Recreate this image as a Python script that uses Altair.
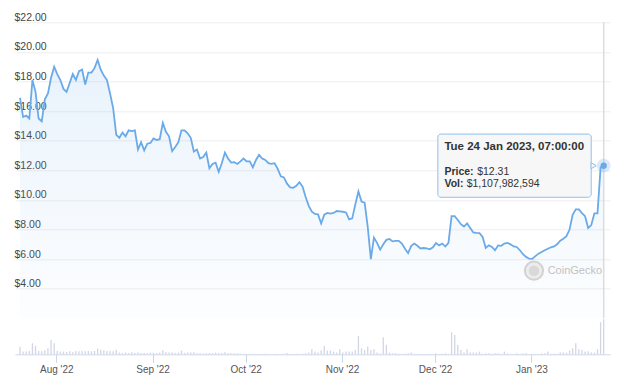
import altair as alt
import pandas as pd

# ---- data ----
dates = pd.date_range("2022-07-20 07:00", periods=189, freq="D")

price_usd = [
    16.9, 15.6, 15.7, 15.5, 18.1, 17.3, 15.5, 15.3, 16.8, 17.2,
    18.25, 19.0, 18.5, 18.1, 17.5, 17.3, 17.9, 18.5, 18.1, 18.7,
    18.8, 17.8, 18.6, 18.6, 18.9, 19.45, 18.8, 18.4, 18.1, 17.2,
    16.2, 14.4, 14.2, 14.55, 14.3, 14.7, 14.65, 14.7, 13.4, 13.9,
    13.35, 13.8, 13.85, 14.15, 14.05, 14.1, 15.2, 14.6, 14.3, 13.3,
    13.57, 13.9, 14.7, 14.7, 14.5, 14.2, 13.27, 13.4, 12.8, 12.9,
    13.2, 12.14, 12.43, 12.52, 11.9, 12.48, 13.2, 12.8, 12.52, 12.55,
    12.43, 12.6, 12.8, 12.6, 12.6, 12.2, 12.7, 13.05, 12.8, 12.7,
    12.48, 12.43, 12.48, 12.1, 11.6, 11.52, 11.1, 10.85, 10.82, 10.95,
    11.2, 10.9, 10.2, 9.6, 9.2, 9.05, 9.02, 8.4, 9.0, 9.12,
    9.08, 9.12, 9.25, 9.23, 9.2, 9.15, 8.68, 8.75, 9.7, 10.57,
    9.89, 9.82, 8.18, 6.0, 7.45, 7.1, 6.64, 7.0, 7.3, 7.36,
    7.2, 7.23, 7.23, 7.05, 6.7, 6.4, 6.9, 7.05, 6.9, 6.72,
    6.75, 6.72, 6.66, 6.8, 7.09, 6.93, 7.05, 6.85, 7.1, 8.9,
    8.9, 8.64, 8.36, 8.2, 8.41, 8.1, 7.8, 7.77, 7.75, 7.5,
    6.75, 6.93, 6.82, 6.6, 6.93, 6.9, 7.05, 7.09, 7.0, 6.86,
    6.82, 6.6, 6.33, 6.15, 6.03, 6.02, 6.2, 6.37, 6.48, 6.6,
    6.7, 6.8, 6.86, 7.0, 7.25, 7.38, 7.55, 8.0, 9.0, 9.36,
    9.36, 9.1, 8.9, 8.1, 8.3, 9.09, 9.09, 12.2, 12.31,
]

volume_musd = [
    237, 85, 85, 104, 348, 269, 104, 95, 127, 190,
    453, 348, 104, 85, 85, 73, 95, 63, 104, 95,
    104, 95, 104, 95, 104, 180, 142, 127, 104, 104,
    95, 136, 54, 41, 54, 41, 63, 41, 54, 41,
    41, 41, 54, 54, 41, 54, 127, 63, 54, 54,
    41, 54, 117, 41, 54, 54, 63, 32, 32, 22,
    32, 41, 41, 54, 41, 41, 63, 41, 32, 32,
    32, 22, 16, 13, 16, 13, 16, 13, 13, 16,
    13, 13, 16, 13, 13, 16, 41, 13, 13, 16,
    13, 16, 32, 54, 158, 85, 54, 117, 263, 117,
    117, 85, 54, 158, 54, 85, 85, 85, 136, 579,
    190, 136, 244, 136, 158, 54, 25, 538, 294, 54,
    32, 32, 16, 16, 16, 32, 54, 16, 13, 13,
    13, 13, 16, 13, 32, 13, 16, 32, 16, 697,
    611, 294, 136, 54, 158, 54, 54, 54, 85, 16,
    32, 32, 16, 32, 32, 16, 85, 32, 13, 13,
    32, 13, 32, 32, 13, 13, 13, 16, 32, 32,
    85, 16, 16, 16, 54, 54, 54, 117, 190, 348,
    158, 136, 85, 95, 54, 54, 158, 1013, 1107.98,
]

y_ticks = [4, 6, 8, 10, 12, 14, 16, 18, 20, 22]
x_ticks = [(2022, 8), (2022, 9), (2022, 10), (2022, 11), (2022, 12), (2023, 1)]

hover_title = "Tue 24 Jan 2023, 07:00:00"
hover_volume_usd = 1107982594
watermark = "CoinGecko"

# ---- tables ----
df = pd.DataFrame({"date": dates, "price": price_usd, "vol": volume_musd})
last = df.iloc[[-1]].copy()
last["top"] = 22
last["bot"] = 2

FONT = "Liberation Sans"
LINE = "#6aaae8"

x_scale = alt.Scale(
    domain=[alt.DateTime(year=2022, month=7, date=20, hours=7),
            alt.DateTime(year=2023, month=1, date=24, hours=17)],
    nice=False,
)
x_axis = alt.Axis(
    values=[alt.DateTime(year=y, month=m, date=1) for y, m in x_ticks],
    format="%b '%y", title=None, grid=False,
    domainColor="#ccd6eb", tickColor="#ccd6eb", tickSize=8,
    labelFontSize=10, labelColor="#555555", labelFont=FONT,
    labelPadding=2, labelFlush=False, labelOverlap=False,
)
price_scale = alt.Scale(domain=[-0.43, 22], nice=False, zero=False)
y_axis = alt.Axis(
    values=y_ticks, format="$,.2f", title=None,
    grid=True, gridColor="#eeeeee", gridWidth=1,
    domain=False, ticks=False, tickSize=0,
    labelAlign="left", labelBaseline="alphabetic", labelOffset=-2,
    labelPadding=1, labelFontSize=10.5, labelColor="#444444", labelFont=FONT,
    labelOverlap=False,
)


def X(field):
    return alt.X(field, type="temporal", scale=x_scale, axis=x_axis)


def YP(field):
    return alt.Y(field, type="quantitative", scale=price_scale, axis=y_axis)


# ---- volume pane ----
vol = alt.Chart(df).mark_bar(size=1.3, color="#d2d6e4").encode(
    x=X("date"),
    y=alt.Y("vol:Q", scale=alt.Scale(domain=[0, 10510], nice=False), axis=None),
)

# ---- price pane ----
area = alt.Chart(df).mark_area(
    color=alt.Gradient(
        gradient="linear",
        stops=[alt.GradientStop(color="rgba(124,181,236,0.17)", offset=0),
               alt.GradientStop(color="rgba(124,181,236,0.02)", offset=1)],
        x1=0, x2=0, y1=0, y2=1,
    ),
    interpolate="linear",
).encode(x=X("date"), y=YP("price"), y2=alt.datum(2))

wm = pd.DataFrame({"x": ["2023-01-01T20:00"], "xt": ["2023-01-06T06:00"],
                   "y": [5.22], "t": [watermark]})
logo_outer = alt.Chart(wm).mark_point(
    shape="circle", filled=True, size=330, fill="#ececec",
    stroke="#d2d2d2", strokeWidth=2, opacity=1,
).encode(x=X("x"), y=YP("y"))
logo_inner = alt.Chart(wm).mark_point(
    shape="circle", filled=True, size=110, color="#d9d9d9", opacity=1,
).encode(x=X("x"), y=YP("y"))
wm_text = alt.Chart(wm).mark_text(
    align="left", baseline="middle", font=FONT, fontSize=11, color="#c2c2c2",
).encode(x=X("xt"), y=YP("y"), text="t:N")

cross = alt.Chart(last).mark_rule(color="#dcdcdc", strokeWidth=1.5).encode(
    x=X("date"), y=YP("top"), y2=alt.Y2("bot"))

line = alt.Chart(df).mark_line(color=LINE, strokeWidth=1.8).encode(
    x=X("date"), y=YP("price"))

halo = alt.Chart(last).mark_circle(size=190, color="#7cb5ec", opacity=0.28).encode(
    x=X("date"), y=YP("price"))
dot = alt.Chart(last).mark_circle(size=40, color=LINE, opacity=1).encode(
    x=X("date"), y=YP("price"))

box_df = pd.DataFrame({"x": ["2022-12-01T21:00"], "x2": ["2023-01-20T06:30"],
                       "y": [14.45], "y2": [10.18]})
box = alt.Chart(box_df).mark_rect(
    fill="#f7f7f7", fillOpacity=0.95, stroke="#8fc0ef", strokeWidth=1, cornerRadius=3,
).encode(x=X("x"), x2=alt.X2("x2"), y=YP("y"), y2=alt.Y2("y2"))

tri_df = pd.DataFrame({"x": ["2023-01-21T01:30"], "y": [price_usd[-1]]})
tri = alt.Chart(tri_df).mark_point(
    shape="triangle-right", filled=True, size=36, fill="#f7f7f7",
    stroke="#8fc0ef", strokeWidth=1, opacity=1,
).encode(x=X("x"), y=YP("y"))

tip_bold = pd.DataFrame({
    "x": ["2022-12-03T23:50", "2022-12-03T23:50", "2022-12-03T23:50"],
    "y": [13.6, 11.86, 11.05],
    "t": [hover_title, "Price:", "Vol:"],
    "fs": [11.5, 10.5, 10.5],
})
tip_norm = pd.DataFrame({
    "x": ["2022-12-14T12:50", "2022-12-11T03:40"],
    "y": [11.86, 11.05],
    "t": [f"${price_usd[-1]:.2f}", f"${hover_volume_usd:,}"],
})
tb = alt.Chart(tip_bold).mark_text(
    align="left", baseline="middle", font=FONT, fontWeight="bold", color="#333333",
).encode(x=X("x"), y=YP("y"), text="t:N",
         size=alt.Size("fs:Q", scale=None, legend=None))
tn = alt.Chart(tip_norm).mark_text(
    align="left", baseline="middle", font=FONT, fontSize=10.5, color="#333333",
).encode(x=X("x"), y=YP("y"), text="t:N")

price_layers = alt.layer(area, logo_outer, logo_inner, wm_text, cross, line,
                         halo, dot, box, tri, tb, tn)

chart = alt.layer(vol, price_layers).resolve_scale(y="independent").properties(
    width=595, height=332,
    autosize=alt.AutoSizeParams(type="none"),
    padding={"left": 7, "top": 14.3, "right": 6, "bottom": 28},
    background="white",
).configure_view(stroke=None)

chart.save("out.html", embed_options={"renderer": "svg", "actions": False})
